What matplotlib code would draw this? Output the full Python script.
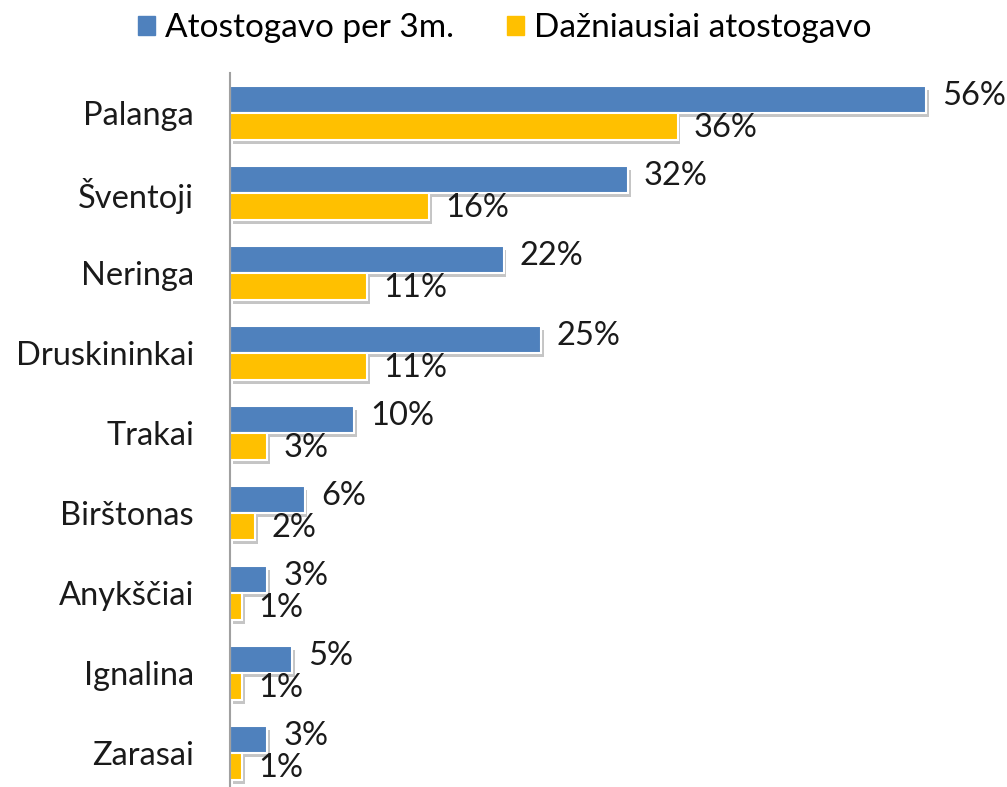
import matplotlib
matplotlib.use("Agg")
import matplotlib.pyplot as plt
import matplotlib.patheffects as pe
from matplotlib.patches import Patch
import numpy as np

categories = ["Palanga", "Šventoji", "Neringa", "Druskininkai", "Trakai",
              "Birštonas", "Anykščiai", "Ignalina", "Zarasai"]
series_names = ["Atostogavo per 3m.", "Dažniausiai atostogavo"]
per3m = [56, 32, 22, 25, 10, 6, 3, 5, 3]
dazniausiai = [36, 16, 11, 11, 3, 2, 1, 1, 1]

blue = "#4F81BD"
gold = "#FFC000"

plt.rcParams['font.family'] = ['Lato', 'DejaVu Sans']

fig = plt.figure(figsize=(10.07, 7.87), dpi=100)
ax = fig.add_axes([230/1007, -6/787, (976-230)/1007, 720/787])

y = np.arange(len(categories))
h = 0.34
shadow = [pe.SimplePatchShadow(offset=(2, -3), shadow_rgbFace='0.5', alpha=0.45), pe.Normal()]
b1 = ax.barh(y - h/2, per3m, height=h, color=blue, edgecolor='white', linewidth=1.5)
b2 = ax.barh(y + h/2, dazniausiai, height=h, color=gold, edgecolor='white', linewidth=1.5)
for b in list(b1) + list(b2):
    b.set_path_effects(shadow)

fs = 23.5
for yi, v in zip(y, per3m):
    ax.text(v + 1.3, yi - h/2 - 0.04, f"{v}%", va='center', ha='left', fontsize=fs, color='#1a1a1a')
for yi, v in zip(y, dazniausiai):
    ax.text(v + 1.3, yi + h/2 + 0.02, f"{v}%", va='center', ha='left', fontsize=fs, color='#1a1a1a')

ax.set_xlim(0, 60)
ax.set_ylim(len(categories) - 0.5, -0.5)
ax.set_yticks(y)
ax.set_yticklabels(categories, fontsize=fs, color='#1a1a1a')
ax.tick_params(axis='y', length=0, pad=26)
ax.set_xticks([])
for s in ['top', 'right', 'bottom']:
    ax.spines[s].set_visible(False)
ax.spines['left'].set_color('#a0a0a0')
ax.spines['left'].set_linewidth(1.5)

handles = [Patch(color=blue), Patch(color=gold)]
fig.legend(handles, series_names, loc='center', bbox_to_anchor=(505/1007, 1 - 28/787),
           ncol=2, frameon=False, fontsize=24, handlelength=0.5, handleheight=0.5,
           handletextpad=0.3, columnspacing=1.6)

fig.savefig("out.png", dpi=100)
